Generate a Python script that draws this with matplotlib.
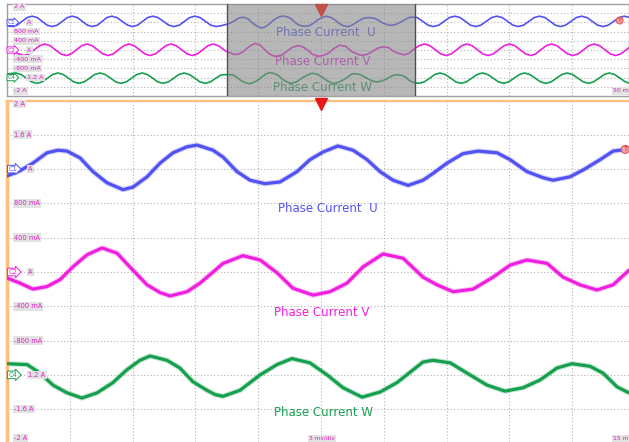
import numpy as np
import matplotlib.pyplot as plt

# ---- zoomed window (3 ms/div), time in ms from the left edge, current in A
t_u = [0.0, 0.62, 1.24, 1.91, 2.44, 2.87, 3.49, 4.11, 4.78, 5.54, 6.02, 6.69, 7.31, 7.93,
       8.60, 9.08, 9.84, 10.32, 10.99, 11.61, 12.32, 13.04, 13.85, 14.47, 15.10, 15.81,
       16.53, 17.20, 17.82, 18.44, 19.16, 19.87, 20.35, 21.02, 21.78, 22.50, 23.41, 24.03,
       24.84, 25.60, 26.08, 26.89, 27.52, 28.33, 28.95, 29.62]
i_u = [1.12, 1.18, 1.27, 1.39, 1.42, 1.41, 1.33, 1.17, 1.04, 0.96, 0.99, 1.11, 1.27, 1.39,
       1.46, 1.48, 1.42, 1.34, 1.17, 1.07, 1.03, 1.05, 1.17, 1.31, 1.40, 1.47,
       1.42, 1.31, 1.17, 1.07, 1.01, 1.07, 1.15, 1.27, 1.38, 1.41, 1.39, 1.31,
       1.17, 1.10, 1.07, 1.11, 1.19, 1.31, 1.41, 1.43]

t_v = [0.0, 0.62, 1.24, 1.91, 2.53, 3.15, 3.82, 4.54, 5.25, 6.02, 6.69, 7.31, 7.79, 8.60,
       9.22, 9.94, 10.32, 11.27, 12.09, 12.90, 13.66, 14.62, 15.43, 16.24, 17.01, 17.96,
       18.92, 19.87, 20.54, 21.31, 22.26, 23.22, 24.03, 24.84, 25.80, 26.56, 27.37, 28.18,
       28.95, 29.71]
i_v = [-0.07, -0.13, -0.20, -0.17, -0.09, 0.06, 0.20, 0.28, 0.22, 0.02, -0.15, -0.24, -0.28, -0.23,
       -0.13, 0.02, 0.10, 0.19, 0.14, -0.01, -0.19, -0.27, -0.23, -0.13, 0.06, 0.21,
       0.16, -0.06, -0.15, -0.23, -0.20, -0.06, 0.08, 0.14, 0.10, -0.06, -0.15, -0.21,
       -0.15, 0.02]

t_w = [0.0, 0.96, 1.58, 2.20, 2.87, 3.58, 4.30, 5.06, 5.73, 6.35, 6.83, 7.64, 8.26, 8.88,
       9.55, 9.94, 10.32, 11.13, 12.09, 12.90, 13.61, 14.47, 15.29, 16.05, 16.96, 17.82,
       18.63, 19.25, 19.87, 20.35, 21.17, 21.98, 22.93, 23.79, 24.65, 25.46, 26.27, 26.99,
       27.85, 28.47, 29.14, 29.71]
i_w = [-1.07, -1.08, -1.18, -1.32, -1.41, -1.47, -1.41, -1.29, -1.14, -1.03, -0.98, -1.03, -1.12, -1.28,
       -1.38, -1.43, -1.45, -1.38, -1.20, -1.08, -1.01, -1.06, -1.20, -1.35, -1.46, -1.40,
       -1.29, -1.17, -1.05, -1.03, -1.06, -1.18, -1.32, -1.39, -1.35, -1.26, -1.12, -1.07,
       -1.10, -1.18, -1.34, -1.41]

# ---- overview (10 ms/div): readings outside the zoom window (window = 35..65 ms)
ov_t_u_left = [0.0, 0.8, 1.6, 2.4, 3.2, 4.0, 4.8, 5.6, 6.4, 7.2, 8.0, 8.8, 9.6, 10.4, 11.2, 12.0,
               12.8, 13.6, 14.4, 15.15, 15.9, 16.7, 17.5, 18.35, 19.2, 20.0, 20.8, 21.6, 22.4,
               23.2, 24.05, 24.9, 25.75, 26.6, 27.45, 28.25, 29.1, 29.9, 30.75, 31.6, 32.45,
               33.3, 34.15]
ov_i_u_left = [1.06, 1.02, 1.08, 1.245, 1.41, 1.47, 1.41, 1.245, 1.08, 1.02, 1.08, 1.245, 1.41, 1.47,
               1.41, 1.245, 1.08, 1.02, 1.08, 1.245, 1.41, 1.47, 1.41, 1.245, 1.08, 1.02, 1.08,
               1.245, 1.41, 1.47, 1.41, 1.245, 1.08, 1.02, 1.08, 1.245, 1.41, 1.47, 1.41, 1.245,
               1.08, 1.02, 1.06]
ov_t_u_right = [65.3, 66.2, 67.05, 67.9, 68.75, 69.6, 70.45, 71.3, 72.15, 73.0, 73.8, 74.6, 75.45,
                76.3, 77.15, 78.0, 78.85, 79.7, 80.55, 81.4, 82.25, 83.1, 83.95, 84.8, 85.65,
                86.5, 87.3, 88.1, 88.95, 89.8, 90.65, 91.5, 92.35, 93.2, 94.05, 94.9, 95.75,
                96.6, 97.45, 98.3, 99.1]
ov_i_u_right = [1.41, 1.245, 1.08, 1.02, 1.08, 1.245, 1.41, 1.47, 1.41, 1.245, 1.08, 1.02, 1.08,
                1.245, 1.41, 1.47, 1.41, 1.245, 1.08, 1.02, 1.08, 1.245, 1.41, 1.47, 1.41,
                1.245, 1.08, 1.02, 1.08, 1.245, 1.41, 1.47, 1.41, 1.245, 1.08, 1.02, 1.08,
                1.245, 1.41, 1.47, 1.42]

ov_t_v_left = [0.0, 1.0, 1.85, 2.7, 3.55, 4.35, 5.2, 6.0, 6.85, 7.7, 8.55, 9.4, 10.25, 11.05,
               11.9, 12.7, 13.55, 14.4, 15.25, 16.1, 16.95, 17.75, 18.6, 19.4, 20.25, 21.1,
               21.95, 22.8, 23.65, 24.45, 25.3, 26.1, 26.95, 27.8, 28.65, 29.5, 30.35, 31.15,
               32.0, 32.8, 33.65, 34.5]
ov_i_v_left = [0.12, -0.05, -0.167, -0.24, -0.167, 0.01, 0.187, 0.26, 0.187, 0.01, -0.167, -0.24,
               -0.167, 0.01, 0.187, 0.26, 0.187, 0.01, -0.167, -0.24, -0.167, 0.01, 0.187, 0.26,
               0.187, 0.01, -0.167, -0.24, -0.167, 0.01, 0.187, 0.26, 0.187, 0.01, -0.167, -0.24,
               -0.167, 0.01, 0.187, 0.26, 0.187, 0.02]
ov_t_v_right = [65.6, 66.5, 67.35, 68.2, 69.05, 69.9, 70.75, 71.6, 72.4, 73.2, 74.05, 74.9, 75.75,
                76.6, 77.45, 78.3, 79.15, 80.0, 80.85, 81.7, 82.55, 83.4, 84.2, 85.0, 85.85,
                86.7, 87.55, 88.4, 89.25, 90.1, 90.95, 91.8, 92.65, 93.5, 94.35, 95.2, 96.05,
                96.9, 97.75, 98.6, 99.1]
ov_i_v_right = [0.187, 0.26, 0.187, 0.01, -0.167, -0.24, -0.167, 0.01, 0.187, 0.26, 0.187, 0.01,
                -0.167, -0.24, -0.167, 0.01, 0.187, 0.26, 0.187, 0.01, -0.167, -0.24, -0.167,
                0.01, 0.187, 0.26, 0.187, 0.01, -0.167, -0.24, -0.167, 0.01, 0.187, 0.26, 0.187,
                0.01, -0.167, -0.24, -0.167, 0.01, 0.12]

ov_t_w_left = [0.0, 0.7, 1.4, 2.25, 3.1, 3.9, 4.75, 5.6, 6.45, 7.25, 8.1, 8.95, 9.8, 10.6, 11.45,
               12.3, 13.15, 13.95, 14.8, 15.65, 16.5, 17.3, 18.15, 19.0, 19.85, 20.65, 21.5,
               22.35, 23.2, 24.0, 24.85, 25.7, 26.55, 27.35, 28.2, 29.05, 29.9, 30.7, 31.55,
               32.4, 33.25, 34.1]
ov_i_w_left = [-1.05, -1.02, -1.00, -1.066, -1.225, -1.384, -1.45, -1.384, -1.225, -1.066, -1.00,
               -1.066, -1.225, -1.384, -1.45, -1.384, -1.225, -1.066, -1.00, -1.066, -1.225,
               -1.384, -1.45, -1.384, -1.225, -1.066, -1.00, -1.066, -1.225, -1.384, -1.45,
               -1.384, -1.225, -1.066, -1.00, -1.066, -1.225, -1.384, -1.45, -1.384, -1.225,
               -1.08]
ov_t_w_right = [65.6, 66.45, 67.3, 68.1, 68.95, 69.8, 70.65, 71.45, 72.3, 73.15, 74.0, 74.85,
                75.7, 76.55, 77.4, 78.25, 79.1, 79.9, 80.75, 81.6, 82.4, 83.25, 84.1, 84.95,
                85.8, 86.65, 87.5, 88.35, 89.2, 90.05, 90.9, 91.75, 92.6, 93.4, 94.25, 95.1,
                95.9, 96.75, 97.6, 98.45, 99.1]
ov_i_w_right = [-1.45, -1.384, -1.225, -1.066, -1.00, -1.066, -1.225, -1.384, -1.45, -1.384,
                -1.225, -1.066, -1.00, -1.066, -1.225, -1.384, -1.45, -1.384, -1.225, -1.066,
                -1.00, -1.066, -1.225, -1.384, -1.45, -1.384, -1.225, -1.066, -1.00, -1.066,
                -1.225, -1.384, -1.45, -1.384, -1.225, -1.066, -1.00, -1.066, -1.225, -1.384,
                -1.44]

# scale labels (the ones partly hidden behind the channel tags are given as visible)
main_labels = ['2 A', '1.6 A', '800 mA', '400 mA', '-400 mA', '-800 mA', '-1.6 A', '-2 A']
main_label_y = [1.96, 1.6, 0.8, 0.4, -0.4, -0.8, -1.6, -1.94]
ov_labels = ['2 A', '800 mA', '400 mA', '-400 mA', '-800 mA', '-2 A']
ov_label_y = [1.87, 0.8, 0.4, -0.4, -0.8, -1.78]
tags = ['C1', 'C2', 'C4']
tag_y = [1.2, 0.0, -1.2]
tag_rest = ['A', 'A', '1.2 A']

WIN_START, WIN_END = 35.0, 65.0
U_COL, V_COL, W_COL = '#5252f2', '#f01ede', '#16a04e'
TAG_COLS = [U_COL, V_COL, W_COL]
LBL_COL = '#e020c8'
GRID_KW = dict(color='#b4b4b4', lw=0.8, ls=(0, (1, 2)))
LBL_BOX = dict(boxstyle='square,pad=0.2', fc='#e2e2e2', ec='none')

fig = plt.figure(figsize=(6.29, 4.42), dpi=100)
W, H = 629, 442

# ---------------- overview panel
ov = fig.add_axes([7 / W, 1 - 96 / H, 622 / W, 92 / H])
ov.set_xlim(0, 99.04)
ov.set_ylim(-2, 2)
for x in np.arange(10, 99, 10):
    ov.axvline(x, **GRID_KW, zorder=1)
for y in np.arange(-1.6, 1.7, 0.4):
    ov.axhline(y, **GRID_KW, zorder=1)

ov_u_t = ov_t_u_left + [WIN_START + t for t in t_u] + ov_t_u_right
ov_u_i = ov_i_u_left + i_u + ov_i_u_right
ov_v_t = ov_t_v_left + [WIN_START + t for t in t_v] + ov_t_v_right
ov_v_i = ov_i_v_left + i_v + ov_i_v_right
ov_w_t = ov_t_w_left + [WIN_START + t for t in t_w] + ov_t_w_right
ov_w_i = ov_i_w_left + i_w + ov_i_w_right
for t, i, col in [(ov_u_t, ov_u_i, U_COL), (ov_v_t, ov_v_i, V_COL), (ov_w_t, ov_w_i, W_COL)]:
    ov.plot(t, i, color=col, lw=1.2, solid_joinstyle='round', zorder=3)

ov.text(50.8, 0.78, 'Phase Current  U', color=U_COL, fontsize=8.5, ha='center', va='center', zorder=4)
ov.text(50.3, -0.48, 'Phase Current V', color=V_COL, fontsize=8.5, ha='center', va='center', zorder=4)
ov.text(50.3, -1.65, 'Phase Current W', color=W_COL, fontsize=8.5, ha='center', va='center', zorder=4)

ov.axvspan(WIN_START, WIN_END, facecolor='#888888', alpha=0.6, edgecolor='none', zorder=5)
ov.axvline(WIN_START, color='#505050', lw=1, zorder=6)
ov.axvline(WIN_END, color='#505050', lw=1, zorder=6)
ov.plot([50], [0.935], marker='v', ms=8, color='#c05048', transform=ov.get_xaxis_transform(),
        clip_on=False, zorder=7)

for lab, y in zip(ov_labels, ov_label_y):
    ov.text(0.012, y, lab, transform=ov.get_yaxis_transform(), fontsize=4.6, color=LBL_COL,
            va='center', ha='left', zorder=8, bbox=dict(LBL_BOX, pad=0.15))
for name, y, rest, col in zip(tags, tag_y, tag_rest, TAG_COLS):
    ov.text(0.001, y, name, transform=ov.get_yaxis_transform(), fontsize=4.2, color=col,
            va='center', ha='left', zorder=9,
            bbox=dict(boxstyle='rarrow,pad=0.1', fc='white', ec=col, lw=0.7))
    ov.text(0.032, y, rest, transform=ov.get_yaxis_transform(), fontsize=4.6, color=LBL_COL,
            va='center', ha='left', zorder=8, bbox=dict(LBL_BOX, pad=0.15))
ov.text(0.985, 1.28, 'T', transform=ov.get_yaxis_transform(), fontsize=4.5, color='#c03030',
        ha='center', va='center', zorder=9,
        bbox=dict(boxstyle='circle,pad=0.15', fc='#f4a0a0', ec='#e05050', lw=0.7))
ov.text(0.975, -1.78, '50 m', transform=ov.get_yaxis_transform(), fontsize=4.5, color=LBL_COL,
        ha='left', va='center', zorder=8, bbox=dict(LBL_BOX, pad=0.15))

ov.set_xticks([])
ov.set_yticks([])
for s in ov.spines.values():
    s.set_color('#a0a0a0')
    s.set_linewidth(1)

# ---------------- main (zoomed) panel
ax = fig.add_axes([7 / W, 0, 622 / W, (H - 100.5) / H])
ax.set_xlim(0, 29.71)
ax.set_ylim(-1.983, 2)
for x in np.arange(3, 29.8, 3):
    ax.axvline(x, **GRID_KW, zorder=1)
for y in np.arange(-1.6, 1.7, 0.4):
    ax.axhline(y, **GRID_KW, zorder=1)

for t, i, col in [(t_u, i_u, U_COL), (t_v, i_v, V_COL), (t_w, i_w, W_COL)]:
    ax.plot(t, i, color=col, lw=3.8, alpha=0.25, solid_joinstyle='round', solid_capstyle='round', zorder=2)
    ax.plot(t, i, color=col, lw=2.3, solid_joinstyle='round', solid_capstyle='round', zorder=3)

ax.text(15.3, 0.735, 'Phase Current  U', color=U_COL, fontsize=8.5, ha='center', va='center')
ax.text(15.05, -0.478, 'Phase Current V', color=V_COL, fontsize=8.5, ha='center', va='center')
ax.text(15.1, -1.644, 'Phase Current W', color=W_COL, fontsize=8.5, ha='center', va='center')

for lab, y in zip(main_labels, main_label_y):
    ax.text(0.011, y, lab, transform=ax.get_yaxis_transform(), fontsize=4.8, color=LBL_COL,
            va='center', ha='left', zorder=8, bbox=LBL_BOX)
for name, y, rest, col in zip(tags, tag_y, tag_rest, TAG_COLS):
    ax.text(0.002, y, name, transform=ax.get_yaxis_transform(), fontsize=4.8, color=col,
            va='center', ha='left', zorder=9,
            bbox=dict(boxstyle='rarrow,pad=0.12', fc='white', ec=col, lw=0.7))
    ax.text(0.034, y, rest, transform=ax.get_yaxis_transform(), fontsize=4.8, color=LBL_COL,
            va='center', ha='left', zorder=8, bbox=LBL_BOX)
ax.text(0.994, 1.43, 'T', transform=ax.get_yaxis_transform(), fontsize=5, color='#c03030',
        ha='center', va='center', zorder=9,
        bbox=dict(boxstyle='circle,pad=0.15', fc='#f4a0a0', ec='#e05050', lw=0.7))
ax.plot([15], [0.99], marker='v', ms=8, color='#e81818', transform=ax.get_xaxis_transform(),
        clip_on=False, zorder=9)
ax.text(15.05, -1.94, '3 ms/div', fontsize=4.3, color=LBL_COL, ha='center', va='center', zorder=8,
        bbox=LBL_BOX)
ax.text(0.975, -1.94, '15 m', transform=ax.get_yaxis_transform(), fontsize=4.3, color=LBL_COL,
        ha='left', va='center', zorder=8, bbox=LBL_BOX)

ax.set_xticks([])
ax.set_yticks([])
for k in ['right', 'bottom']:
    ax.spines[k].set_visible(False)
ax.spines['left'].set_color('#ffbe80')
ax.spines['left'].set_linewidth(2.5)
ax.spines['top'].set_color('#ffbe80')
ax.spines['top'].set_linewidth(1.6)

fig.savefig('out.png', dpi=100)
